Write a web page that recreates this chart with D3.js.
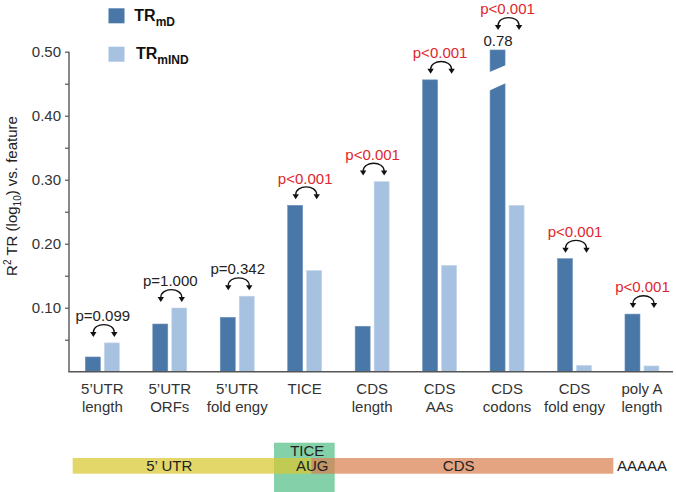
<!DOCTYPE html>
<html>
<head>
<meta charset="utf-8">
<script src="https://cdn.jsdelivr.net/npm/d3@7"></script>
<style>
  html, body { margin: 0; padding: 0; background: #fff; }
  svg { display: block; font-family: "Liberation Sans", Arial, Helvetica, sans-serif; }
</style>
</head>
<body>
<svg id="chart" width="676" height="492"></svg>
<script>
// ---- data ----
const catLine1 = ["5’UTR", "5’UTR", "5’UTR", "TICE", "CDS", "CDS", "CDS", "CDS", "poly A"];
const catLine2 = ["length", "ORFs", "fold engy", "", "length", "AAs", "codons", "fold engy", "length"];
const seriesNames = ["mD", "mIND"];
const valuesMD   = [0.023, 0.0745, 0.085, 0.260, 0.071, 0.456, 0.78, 0.1766, 0.090];
const valuesMIND = [0.045, 0.0995, 0.118, 0.158, 0.297, 0.166, 0.260, 0.0098, 0.009];
const pLabels = ["p=0.099", "p=1.000", "p=0.342", "p<0.001", "p<0.001", "p<0.001", "p<0.001", "p<0.001", "p<0.001"];
const yTicks = [0.05, 0.10, 0.15, 0.20, 0.25, 0.30, 0.35, 0.40, 0.45, 0.50];
const yTickLabels = ["", "0.10", "", "0.20", "", "0.30", "", "0.40", "", "0.50"];
const geneSegments = ["5’ UTR", "CDS"];
const geneSegStart = [0, 0.4417];
const geneSegEnd = [0.4417, 1];
const ticeBox = [0.3724, 0.4846];

const colors = { mD: "#4877a8", mIND: "#a7c2e0" };
const categories = catLine1.map((d, i) => d + " " + catLine2[i]);

// ---- layout ----
const svg = d3.select("#chart");
const y = d3.scaleLinear().domain([0, 0.5]).range([371.7, 51.7]);
const x = d3.scaleBand().domain(categories).range([68.6, 675.7]).padding(0);
const bw = x.bandwidth();
const x1 = d3.scaleBand().domain(seriesNames).range([(bw - 34) / 2, (bw + 34) / 2]).paddingInner(4 / 19).paddingOuter(0);
const yMaxDraw = 0.5027;

const data = categories.map((c, i) => ({
  cat: c, i,
  vals: [{ s: "mD", v: valuesMD[i] }, { s: "mIND", v: valuesMIND[i] }],
  p: pLabels[i]
}));

// ---- bars ----
const g = svg.append("g");
const groups = g.selectAll("g.grp").data(data).join("g")
  .attr("class", "grp")
  .attr("transform", d => `translate(${x(d.cat)},0)`);

groups.selectAll("rect").data(d => d.vals).join("rect")
  .attr("x", d => x1(d.s))
  .attr("width", x1.bandwidth())
  .attr("y", d => y(Math.min(d.v, yMaxDraw)))
  .attr("height", d => y(0) - y(Math.min(d.v, yMaxDraw)))
  .attr("fill", d => colors[d.s])
  .attr("stroke", d => d.s === "mD" ? "#6d93bb" : "#c3d5ea")
  .attr("stroke-width", 0.6);

// broken bar (value above axis range)
data.forEach(d => {
  d.vals.forEach(v => {
    if (v.v > 0.5) {
      const bx = x(d.cat) + x1(v.s);
      const w = x1.bandwidth();
      const top = y(yMaxDraw);
      svg.append("polygon")
        .attr("points", [
          [bx - 1, top + 22.3], [bx + w + 1, top + 15.1],
          [bx + w + 1, top + 33.1], [bx - 1, top + 40.9]
        ].map(p => p.join(",")).join(" "))
        .attr("fill", "#fff");
      svg.append("text")
        .attr("x", bx + w / 2 + 0.5)
        .attr("y", top - 4)
        .attr("text-anchor", "middle")
        .attr("font-size", 15)
        .attr("fill", "#222")
        .text(d3.format(".2f")(v.v));
    }
  });
});

// ---- significance arcs ----
data.forEach(d => {
  const hi = d3.max(d.vals, v => v.v);
  let top = y(Math.min(hi, yMaxDraw));
  if (hi > 0.5) top -= 14;
  const cx = x(d.cat) + bw / 2 + 1.5;
  const x0 = cx - 10.5, xr = cx + 10.5;
  const tipY = top - 6;
  const endY = top - 10.5;
  const ctrlY = top - 21;
  svg.append("path")
    .attr("d", `M${x0},${endY} C${x0},${ctrlY} ${xr},${ctrlY} ${xr},${endY}`)
    .attr("fill", "none")
    .attr("stroke", "#111")
    .attr("stroke-width", 1.3);
  [x0, xr].forEach(ax => {
    svg.append("path")
      .attr("d", `M${ax - 3.2},${endY - 0.5} L${ax + 3.2},${endY - 0.5} L${ax},${tipY} Z`)
      .attr("fill", "#111");
  });
  svg.append("text")
    .attr("x", x(d.cat) + bw / 2 + 0.5)
    .attr("y", top - 27 + 5.3)
    .attr("text-anchor", "middle")
    .attr("font-size", 15)
    .attr("fill", d.p.indexOf("<") >= 0 ? "#e0262d" : "#222")
    .text(d.p);
});

// ---- axes ----
const yAxis = d3.axisLeft(y)
  .tickValues(yTicks)
  .tickSize(4)
  .tickSizeOuter(0)
  .tickPadding(4)
  .tickFormat((d, i) => yTickLabels[i]);
const ya = svg.append("g").attr("transform", "translate(69,0)").call(yAxis);
ya.select(".domain").attr("stroke", "#555").attr("stroke-width", 1.4)
  .attr("d", `M0,${y(0)}V${y(0.5)}`);
ya.selectAll(".tick line").attr("stroke", "#555").attr("stroke-width", 1.2);
ya.selectAll(".tick text").attr("font-size", 15).attr("fill", "#333")
  .attr("font-family", "'Liberation Sans', Arial, sans-serif");

svg.append("line")
  .attr("x1", 68.3).attr("x2", 673)
  .attr("y1", y(0)).attr("y2", y(0))
  .attr("stroke", "#555").attr("stroke-width", 1.4);

// category labels
const cl = svg.append("g");
data.forEach(d => {
  const cx = x(d.cat) + bw / 2;
  cl.append("text").attr("x", cx).attr("y", 393.6).attr("text-anchor", "middle")
    .attr("font-size", 15).attr("fill", "#333").text(catLine1[d.i]);
  if (catLine2[d.i]) {
    cl.append("text").attr("x", cx).attr("y", 412).attr("text-anchor", "middle")
      .attr("font-size", 15).attr("fill", "#333").text(catLine2[d.i]);
  }
});

// y-axis title
const yt = svg.append("text")
  .attr("transform", "translate(17,196) rotate(-90)")
  .attr("text-anchor", "middle")
  .attr("font-size", 15)
  .attr("fill", "#222");
yt.append("tspan").text("R");
yt.append("tspan").attr("font-size", 10).attr("dy", -6).text("2");
yt.append("tspan").attr("dy", 6).text(" TR (log");
yt.append("tspan").attr("font-size", 10).attr("dy", 4).text("10");
yt.append("tspan").attr("dy", -4).text(") vs. feature");

// ---- legend ----
const legend = svg.append("g");
const legY = [8.3, 46.7];
const legTextX = [134.3, 136];
seriesNames.forEach((s, i) => {
  legend.append("rect").attr("x", 108.5).attr("y", legY[i]).attr("width", 16).attr("height", 15)
    .attr("fill", colors[s]);
  const t = legend.append("text").attr("x", legTextX[i]).attr("y", legY[i] + 12.7)
    .attr("font-size", 16).attr("font-weight", "bold").attr("fill", "#111");
  t.append("tspan").text("TR");
  t.append("tspan").attr("font-size", 12).attr("dy", 4.5).text(s);
});

// ---- gene diagram ----
const gx = d3.scaleLinear().domain([0, 1]).range([72.7, 613.3]);
const gd = svg.append("g");
gd.append("rect")
  .attr("x", gx(ticeBox[0])).attr("y", 442.7)
  .attr("width", gx(ticeBox[1]) - gx(ticeBox[0])).attr("height", 52)
  .attr("fill", "#84d0a8");
const segColors = ["rgb(216,199,48)", "rgb(217,127,81)"];
geneSegments.forEach((s, i) => {
  gd.append("rect")
    .attr("x", gx(geneSegStart[i])).attr("y", 458)
    .attr("width", gx(geneSegEnd[i]) - gx(geneSegStart[i])).attr("height", 15.7)
    .attr("fill", segColors[i]).attr("fill-opacity", 0.72);
});
const gLabels = [
  { t: "5’ UTR", x: 169.3, y: 471.3, a: "middle" },
  { t: "CDS", x: 458.7, y: 471.3, a: "middle" },
  { t: "AUG", x: 312.3, y: 471.3, a: "middle" },
  { t: "TICE", x: 307.3, y: 456, a: "middle" },
  { t: "AAAAA", x: 617, y: 471.3, a: "start" }
];
gLabels.forEach(l => {
  gd.append("text").attr("x", l.x).attr("y", l.y).attr("text-anchor", l.a)
    .attr("font-size", 15).attr("fill", "#222").text(l.t);
});
</script>
</body>
</html>
